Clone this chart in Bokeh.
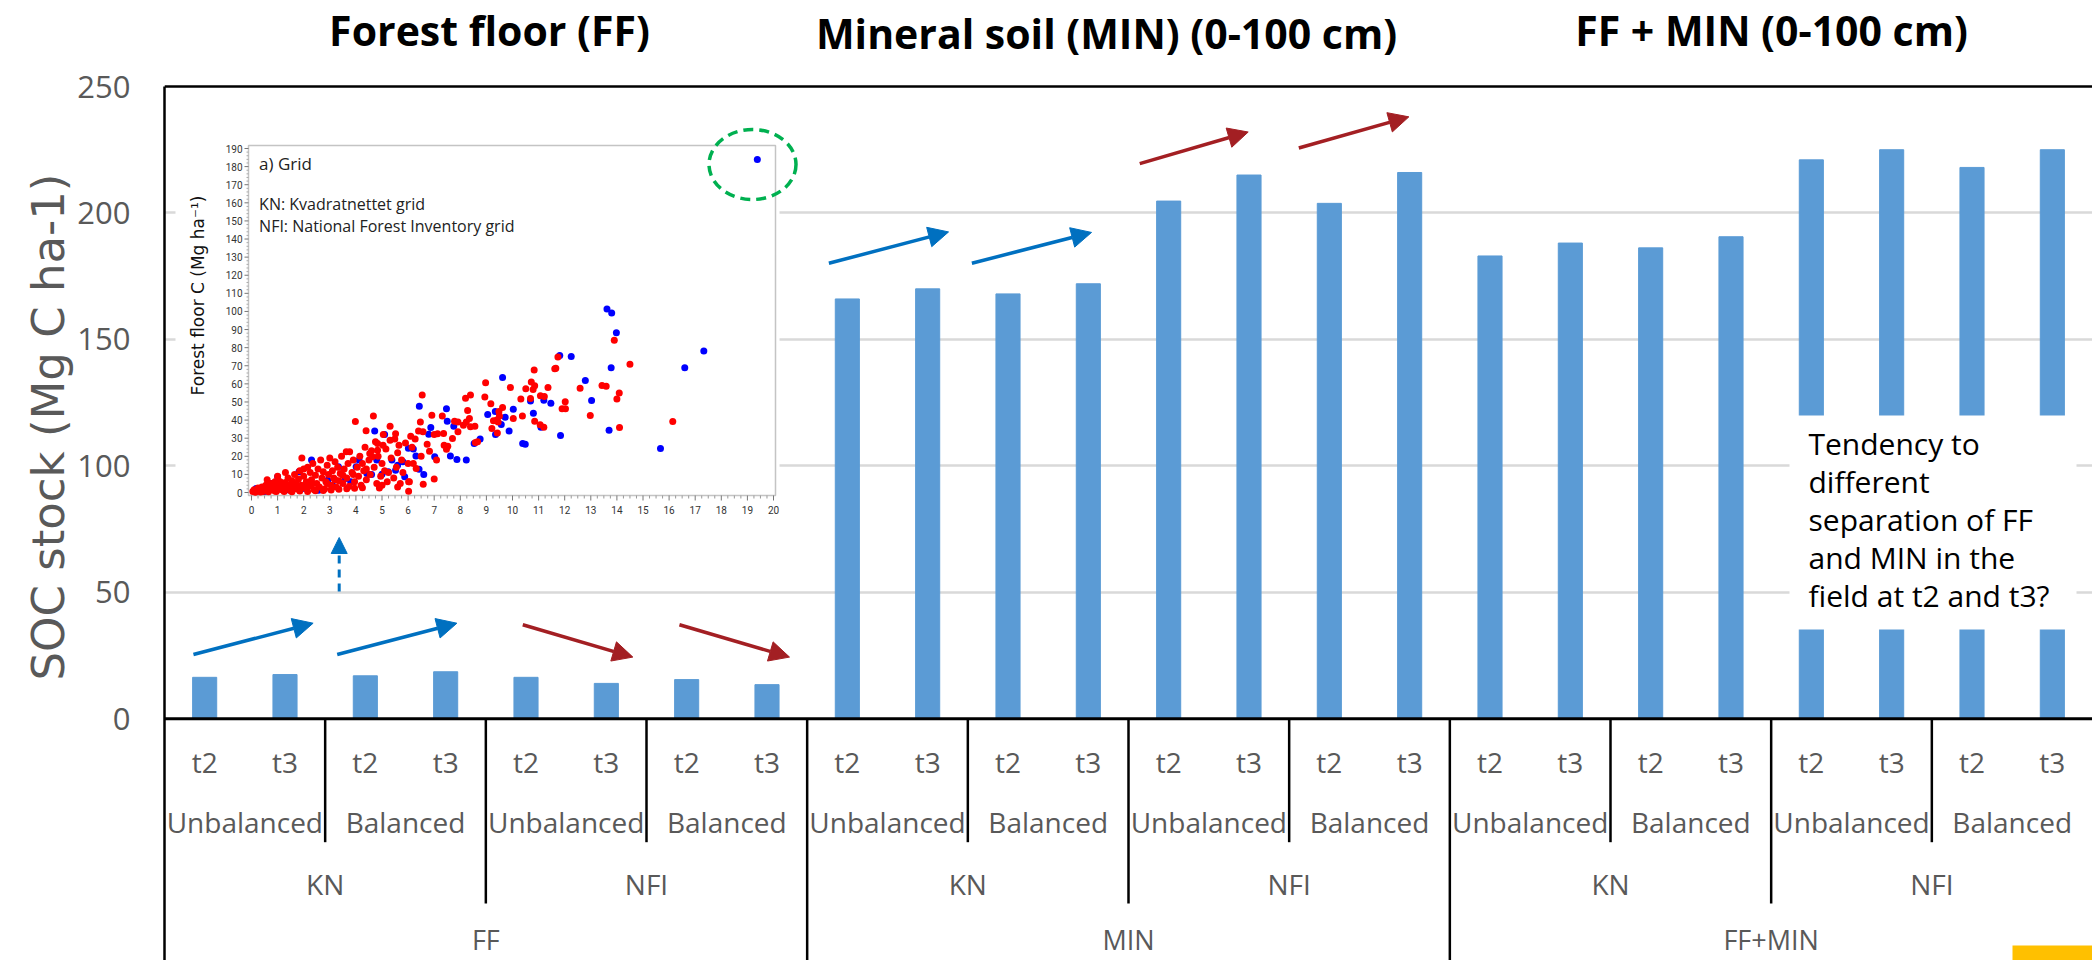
import math
from bokeh.plotting import figure
from bokeh.models import Range1d, FixedTicker, Span, Arrow, NormalHead, Title
from bokeh.core.properties import value
from bokeh.embed import file_html
from bokeh.resources import INLINE

# ---------------- data ----------------
measures = ["FF", "MIN", "FF+MIN"]
grids = ["KN", "NFI"]
designs = ["Unbalanced", "Balanced"]
times = ["t2", "t3"]
# order: KN-Unbal t2,t3, KN-Bal t2,t3, NFI-Unbal t2,t3, NFI-Bal t2,t3
soc_ff = [16.4, 17.5, 17.0, 18.6, 16.4, 14.0, 15.5, 13.5]
soc_min = [166.0, 170.0, 168.0, 172.0, 204.7, 215.0, 203.8, 216.0]
soc_ffmin = [183.0, 188.1, 186.2, 190.6, 221.0, 225.0, 218.0, 225.0]
y_ticks = [0, 50, 100, 150, 200, 250]
y_grid = [50, 100, 150, 200]
y_title = "SOC stock (Mg C ha-1)"

titles = ["Forest floor (FF)", "Mineral soil (MIN) (0-100 cm)", "FF + MIN (0-100 cm)"]
note_lines = ["Tendency to", "different", "separation of FF", "and MIN in the", "field at t2 and t3?"]

# inset scatter (forest floor C)
inset_blue = [(19.38, 183.9), (13.62, 101.4), (13.8, 99.2), (13.98, 88.2), (17.33, 78.1), (16.6, 68.9),
              (13.78, 68.9), (11.81, 75.7), (12.25, 75.1), (9.62, 63.5), (12.79, 61.9), (13.03, 50.8),
              (10.69, 50.6), (11.2, 50.9), (11.47, 49.3), (10.8, 43.8), (11.09, 36.1), (11.84, 31.5),
              (13.7, 34.4), (15.67, 24.3), (10.39, 27.0), (10.49, 26.6), (9.05, 43.1), (9.34, 44.7),
              (9.57, 37.6), (9.87, 33.9), (10.03, 46.0), (9.35, 32.0), (9.72, 41.6), (7.47, 46.2),
              (7.5, 39.4), (7.75, 36.6), (7.62, 20.2), (7.87, 18.2), (8.23, 18.0), (8.53, 27.0),
              (8.76, 29.6), (6.43, 47.7), (6.87, 35.9), (6.79, 32.2), (6.3, 20.2), (6.42, 12.9),
              (6.6, 9.9), (5.87, 8.7), (6.01, 24.5), (7.02, 19.7), (5.1, 32.0), (4.72, 33.9),
              (5.38, 17.9), (5.52, 12.3), (5.24, 11.4), (5.0, 10.1), (4.42, 10.5), (4.12, 17.9),
              (4.01, 14.2), (3.6, 7.7), (3.33, 14.2), (2.92, 6.8), (2.3, 17.9), (1.82, 11.4),
              (1.0, 8.7), (0.73, 5.0), (0.18, 2.2), (2.57, 1.3), (1.96, 2.2), (4.6, 10.0),
              (3.1, 4.0), (2.0, 3.0), (1.4, 1.5), (0.5, 0.5), (3.8, 6.0), (4.8, 18.0),
              (5.6, 15.0), (6.2, 24.0), (5.8, 17.0)]
inset_red = [(13.9, 84.1), (14.5, 70.9), (16.14, 39.2), (14.1, 35.9), (14.09, 55.0), (14.0, 51.7),
             (13.43, 59.1), (13.59, 58.7), (12.59, 57.6), (12.98, 42.5), (12.02, 50.1), (11.9, 46.2),
             (12.03, 46.2), (11.74, 74.9), (11.62, 68.3), (11.66, 68.6), (11.36, 58.0), (11.07, 53.4),
             (11.22, 53.0), (10.83, 67.7), (10.72, 61.1), (10.85, 58.9), (10.79, 56.9), (10.51, 57.3),
             (10.69, 51.9), (10.38, 42.3), (10.85, 39.4), (11.06, 37.4), (11.2, 36.1), (10.32, 51.7),
             (9.92, 58.0), (10.03, 40.9), (8.97, 60.6), (8.94, 52.8), (9.17, 49.0), (9.4, 40.0),
             (9.5, 42.3), (9.27, 39.6), (9.45, 39.0), (9.48, 44.7), (9.62, 46.9), (9.21, 35.3),
             (9.42, 32.8), (8.39, 53.8), (8.2, 52.1), (8.28, 45.3), (8.35, 40.9), (8.23, 39.0),
             (8.12, 37.2), (7.78, 39.4), (7.91, 39.0), (8.56, 36.6), (8.39, 36.3), (8.66, 28.0),
             (8.58, 27.6), (7.91, 33.5), (7.7, 29.8), (7.36, 32.6), (7.31, 42.3), (6.91, 42.7),
             (7.0, 32.0), (7.13, 32.4), (7.38, 26.1), (7.52, 25.6), (7.47, 23.9), (7.09, 17.9),
             (7.0, 7.4), (6.54, 53.8), (6.47, 39.0), (6.57, 33.5), (6.27, 29.5), (6.73, 26.7),
             (6.82, 22.8), (6.58, 4.6), (6.02, 0.7), (6.02, 5.9), (6.2, 16.0), (6.31, 13.3),
             (5.9, 27.4), (5.65, 26.1), (5.31, 28.9), (5.52, 32.4), (5.49, 29.6), (5.31, 36.6),
             (4.83, 27.0), (5.04, 26.1), (4.83, 23.4), (4.67, 42.2), (4.39, 34.1), (4.53, 21.5),
             (4.63, 19.7), (3.98, 39.2), (3.76, 22.5), (3.63, 22.5), (1.93, 19.1),
             (0.05, 0.5), (0.1, 1.5), (0.2, 0.8), (0.25, 2.5), (0.3, 1.2), (0.4, 3.0), (0.45, 0.5),
             (0.5, 2.0), (0.55, 4.0), (0.6, 1.0), (0.7, 2.8), (0.75, 5.0), (0.8, 1.5), (0.85, 3.5),
             (0.9, 0.8), (1.0, 2.2), (1.05, 4.5), (1.1, 6.0), (1.15, 1.5), (1.2, 3.2), (1.3, 5.5),
             (1.35, 2.0), (1.4, 8.0), (1.45, 4.0), (1.5, 1.0), (1.55, 6.5), (1.6, 3.0), (1.65, 10.0),
             (1.7, 5.0), (1.75, 2.0), (1.8, 7.5), (1.85, 12.0), (1.9, 4.0), (2.0, 9.0), (2.05, 2.5),
             (2.1, 6.0), (2.15, 14.0), (2.2, 3.5), (2.25, 11.0), (2.3, 7.0), (2.35, 16.0), (2.4, 1.5),
             (2.45, 9.5), (2.5, 5.0), (2.55, 13.0), (2.6, 3.0), (2.65, 18.0), (2.7, 8.0), (2.75, 11.5),
             (2.8, 2.0), (2.85, 6.0), (2.9, 15.0), (2.95, 10.0), (3.0, 19.0), (3.05, 4.0), (3.1, 12.0),
             (3.15, 8.0), (3.2, 17.0), (3.25, 3.0), (3.3, 14.0), (3.35, 6.5), (3.4, 10.5), (3.45, 20.0),
             (3.5, 5.0), (3.55, 13.0), (3.65, 8.0), (3.7, 16.0), (3.75, 3.5), (3.85, 11.0), (3.9, 18.0),
             (3.95, 6.0), (4.05, 14.0), (4.1, 9.0), (4.15, 20.0), (4.2, 4.0), (4.25, 16.0), (4.3, 12.0),
             (4.35, 25.0), (4.4, 7.0), (4.5, 18.0), (4.55, 10.0), (4.6, 23.0), (4.7, 14.0), (4.75, 28.0),
             (4.8, 5.0), (4.85, 20.0), (4.95, 9.0), (5.0, 16.0), (5.05, 32.0), (5.1, 12.0), (5.15, 24.0),
             (5.2, 6.0), (5.35, 19.0), (5.45, 8.0), (5.55, 14.0), (5.6, 22.0), (5.7, 5.0), (5.75, 18.0),
             (5.8, 11.0), (6.0, 16.0), (6.05, 6.0), (6.1, 31.0), (6.15, 25.0), (6.4, 34.0), (6.5, 20.0),
             (0.15, 0.2), (0.35, 0.3), (0.65, 0.4), (0.95, 0.5), (1.25, 0.6), (1.55, 0.4), (1.85, 0.8),
             (2.15, 0.5), (2.45, 0.9), (2.75, 1.1), (3.05, 1.4), (3.35, 1.8), (3.65, 2.1), (3.95, 2.4),
             (4.25, 2.6), (1.0, 9.0), (1.3, 11.0), (0.6, 7.0), (2.0, 13.0), (3.2, 7.0), (3.9, 10.0),
             (4.4, 13.0), (5.0, 4.0), (5.25, 11.0), (5.6, 3.0), (4.9, 2.5), (3.5, 9.5), (2.9, 5.0),
             (2.3, 4.5), (1.7, 3.5), (0.9, 6.0)]
inset_x_ticks = list(range(0, 21))
inset_y_ticks = list(range(0, 191, 10))

# ---------------- geometry (page pixels) ----------------
W, H = 2092, 960
FL, FR, FT, FB = 164, 2092, 0, 960          # frame edges on the page
CAT_PX = (2092 - 164) / 24.0                 # width of one category
Y0_PX, Y250_PX = 718.3, 86.0
PPU = (Y0_PX - Y250_PX) / 250.0

def mx(px):
    return (px - FL) / CAT_PX

def my(py):
    return (Y0_PX - py) / PPU

IX0, IX20 = 251.0, 773.0
IY0, IY190 = 492.0, 148.0
IXP = (IX20 - IX0) / 20.0
IYP = (IY0 - IY190) / 190.0

def ixu(px):
    return (px - IX0) / IXP

def iyu(py):
    return (IY0 - py) / IYP

GRAY = "#595959"
BAR = "#5b9bd5"
BLUE_ARW = "#0070c0"
RED_ARW = "#a31f23"

p = figure(width=W, height=H, output_backend="svg", toolbar_location=None,
           x_range=Range1d(0, mx(FR)), y_range=Range1d(my(FB), my(FT)),
           x_axis_location=None, min_border_left=FL, min_border_right=0,
           min_border_top=0, min_border_bottom=0)
p.outline_line_color = None
p.background_fill_color = "white"
p.border_fill_color = "white"
p.xgrid.grid_line_color = None

p.extra_x_ranges = {"ix": Range1d(ixu(FL), ixu(FR))}
p.extra_y_ranges = {"iy": Range1d(iyu(FB), iyu(FT))}

# y axis
ax = p.yaxis[0]
ax.ticker = FixedTicker(ticks=y_ticks)
ax.bounds = (my(FB) - 5, 250)
ax.axis_line_color = "black"
ax.axis_line_width = 2.5
ax.major_tick_line_color = None
ax.minor_tick_line_color = None
ax.major_tick_out = 0
ax.major_tick_in = 0
ax.major_label_standoff = 34
ax.major_label_text_font = "Open Sans"
ax.major_label_text_font_size = "31px"
ax.major_label_text_color = GRAY

# y title as a side title; its bottom end sits at page y ~ 680
p.add_layout(Title(text=y_title, align="left", offset=(FB - 680),
                   text_font="DejaVu Sans", text_font_size="45px", text_font_style="normal",
                   text_color=GRAY, standoff=0), "left")

p.ygrid.ticker = FixedTicker(ticks=y_grid)
p.ygrid.grid_line_color = "#d9d9d9"
p.ygrid.grid_line_width = 2.5

# bars
values = soc_ff + soc_min + soc_ffmin
n = len(values)
xs = [i + 0.5 for i in range(n)]
p.vbar(x=xs, top=values, bottom=0, width=0.3, fill_color=BAR, line_color=BAR)

# top border and zero line
p.add_layout(Span(location=250, dimension="width", line_color="black", line_width=2.5))
p.add_layout(Span(location=0, dimension="width", line_color="black", line_width=3))

# category axis (4 levels)
n_t = len(times)
n_d = len(designs) * n_t
n_g = len(grids) * n_d
lab_font = value("Open Sans")
lab_size = value("28px")
p.text(x=xs, y=[my(761.7)] * n, text=[times[i % n_t] for i in range(n)],
       text_align="center", text_baseline="middle", text_font=lab_font,
       text_font_size=lab_size, text_color=GRAY)
nd = n // n_t
p.text(x=[j * n_t + n_t / 2 for j in range(nd)], y=[my(821.7)] * nd,
       text=[designs[j % len(designs)] for j in range(nd)],
       text_align="center", text_baseline="middle", text_font=lab_font,
       text_font_size=lab_size, text_color=GRAY)
ng = n // n_d
p.text(x=[k * n_d + n_d / 2 for k in range(ng)], y=[my(883.3)] * ng,
       text=[grids[k % len(grids)] for k in range(ng)],
       text_align="center", text_baseline="middle", text_font=lab_font,
       text_font_size=lab_size, text_color=GRAY)
p.text(x=[m * n_g + n_g / 2 for m in range(len(measures))], y=[my(939)] * len(measures),
       text=measures, text_align="center", text_baseline="middle", text_font=lab_font,
       text_font_size=value("27px"), text_color=GRAY)

sep_d = [b for b in range(n_t, n, n_t) if b % n_d != 0]
sep_g = [b for b in range(n_d, n, n_d) if b % n_g != 0]
sep_m = [b for b in range(n_g, n, n_g)]
p.segment(x0=sep_d, y0=[0] * len(sep_d), x1=sep_d, y1=[my(841.7)] * len(sep_d),
          line_color="black", line_width=2.5)
p.segment(x0=sep_g, y0=[0] * len(sep_g), x1=sep_g, y1=[my(903)] * len(sep_g),
          line_color="black", line_width=2.5)
p.segment(x0=sep_m, y0=[0] * len(sep_m), x1=sep_m, y1=[my(FB) - 10] * len(sep_m),
          line_color="black", line_width=2.5)

# titles
title_font = value("Open Sans")
p.text(x=[mx(489), mx(1106), mx(1771)], y=[my(29), my(32), my(29)], text=titles,
       text_align="center", text_baseline="middle", text_font=title_font,
       text_font_size=value("41px"), text_font_style="bold", text_color="black")

# trend arrows (annotation positions in data units)
arrows = [
    (0.36, 25.4, 1.85, 37.8, BLUE_ARW), (2.15, 25.4, 3.64, 37.8, BLUE_ARW),
    (4.46, 37.2, 5.83, 24.4, RED_ARW), (6.41, 37.2, 7.78, 24.4, RED_ARW),
    (8.27, 180.1, 9.76, 192.5, BLUE_ARW), (10.05, 180.1, 11.54, 192.3, BLUE_ARW),
    (12.14, 219.5, 13.49, 232.0, RED_ARW), (14.12, 225.7, 15.49, 238.0, RED_ARW),
]
for x0, y0, x1, y1, c in arrows:
    p.add_layout(Arrow(x_start=x0, y_start=y0, x_end=x1, y_end=y1, line_color=c, line_width=3.5,
                       end=NormalHead(size=20, fill_color=c, line_color=c, line_width=1)))
p.add_layout(Arrow(x_start=mx(338.7), y_start=my(591), x_end=mx(338.7), y_end=my(537),
                   line_color=BLUE_ARW, line_width=3, line_dash="8 6",
                   end=NormalHead(size=16, fill_color=BLUE_ARW, line_color=BLUE_ARW, line_width=1)))

# note box over the FF+MIN NFI bars
p.quad(left=[mx(1789)], right=[mx(2076)], bottom=[my(629)], top=[my(415)],
       fill_color="white", line_color=None)
p.text(x=[mx(1808)] * len(note_lines), y=[my(443 + 38 * i) for i in range(len(note_lines))],
       text=note_lines, text_align="left", text_baseline="middle", text_font=value("Open Sans"),
       text_font_size=value("30px"), text_color="black")

# yellow slide mark
p.quad(left=[mx(2012)], right=[mx(FR) + 1], bottom=[my(FB) - 5], top=[my(945)],
       fill_color="#ffc000", line_color=None)

# ---------------- inset scatter ----------------
kw = dict(x_range_name="ix", y_range_name="iy")
p.quad(left=[ixu(175)], right=[ixu(779)], bottom=[iyu(526)], top=[iyu(120)],
       fill_color="white", line_color=None, **kw)
p.quad(left=[ixu(248)], right=[ixu(775)], bottom=[iyu(495)], top=[iyu(145)],
       fill_color="white", line_color="#c4c4c4", line_width=1.5, **kw)

# inset ticks
xmin = [t / 4 for t in range(0, 81) if t % 4 != 0]
p.segment(x0=inset_x_ticks, x1=inset_x_ticks, y0=[iyu(495)] * len(inset_x_ticks),
          y1=[iyu(500)] * len(inset_x_ticks), line_color="#777777", line_width=1, **kw)
p.segment(x0=xmin, x1=xmin, y0=[iyu(495)] * len(xmin), y1=[iyu(498)] * len(xmin),
          line_color="#999999", line_width=1, **kw)
ymin = [t for t in range(0, 191, 2) if t % 10 != 0]
p.segment(x0=[ixu(248)] * len(inset_y_ticks), x1=[ixu(244)] * len(inset_y_ticks),
          y0=inset_y_ticks, y1=inset_y_ticks, line_color="#777777", line_width=1, **kw)
p.segment(x0=[ixu(248)] * len(ymin), x1=[ixu(246)] * len(ymin),
          y0=ymin, y1=ymin, line_color="#aaaaaa", line_width=1, **kw)
p.text(x=[ixu(242)] * len(inset_y_ticks), y=inset_y_ticks, text=[str(t) for t in inset_y_ticks],
       text_align="right", text_baseline="middle", text_font=value("Roboto"),
       text_font_size=value("10px"), text_color="#333333", **kw)
p.text(x=inset_x_ticks, y=[iyu(509)] * len(inset_x_ticks), text=[str(t) for t in inset_x_ticks],
       text_align="center", text_baseline="middle", text_font=value("Roboto"),
       text_font_size=value("10px"), text_color="#333333", **kw)

p.scatter(x=[a for a, b in inset_blue], y=[b for a, b in inset_blue], size=7,
          fill_color="#0000ff", line_color=None, **kw)
p.scatter(x=[a for a, b in inset_red], y=[b for a, b in inset_red], size=7,
          fill_color="#ff0000", line_color=None, **kw)

p.text(x=[ixu(258.6)], y=[iyu(162.7)], text=["a) Grid"], text_align="left", text_baseline="middle",
       text_font=value("Open Sans"), text_font_size=value("17px"), text_color="#222222", **kw)
p.text(x=[ixu(258.6)] * 2, y=[iyu(203), iyu(225)],
       text=["KN: Kvadratnettet grid", "NFI: National Forest Inventory grid"],
       text_align="left", text_baseline="middle", text_font=value("Open Sans"),
       text_font_size=value("16px"), text_color="#222222", **kw)
p.text(x=[ixu(197)], y=[iyu(295)], text=["Forest floor C (Mg ha\u207b\u00b9)"], angle=math.pi / 2,
       text_align="center", text_baseline="middle", text_font=value("DejaVu Sans"),
       text_font_size=value("17px"), text_color="#111111", **kw)
p.ellipse(x=[ixu(752)], y=[iyu(164)], width=87, height=70, width_units="screen",
          height_units="screen", fill_color=None, line_color="#00b050", line_width=3.5,
          line_dash="10 6", **kw)

open("out.html", "w").write(file_html(p, INLINE))
